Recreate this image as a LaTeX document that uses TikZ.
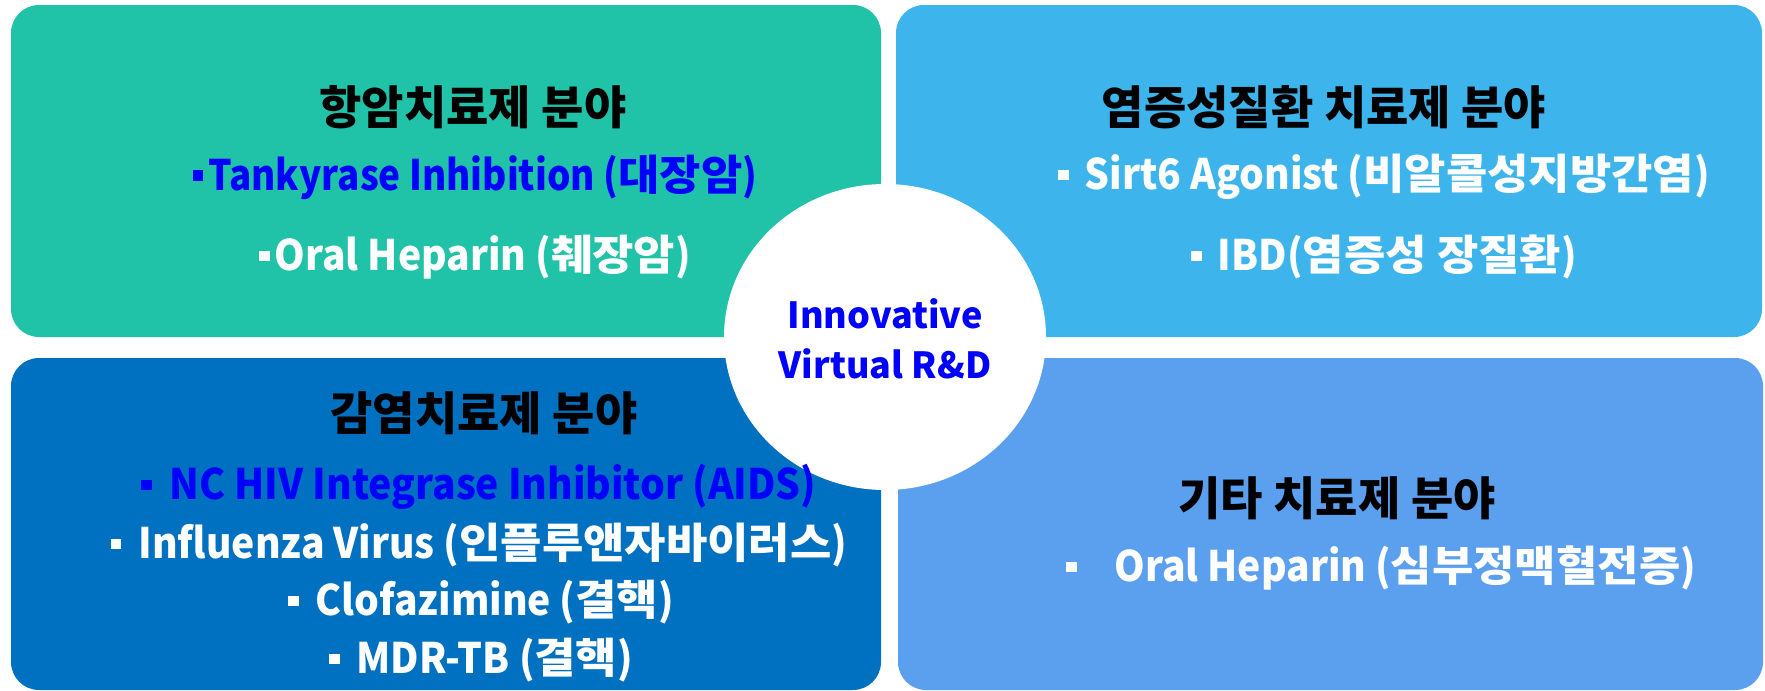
\documentclass[tikz,border=0pt]{standalone}
\usepackage{fontspec}
\newfontfamily\kr{Noto Sans CJK KR}
\newfontfamily\krn{Noto Sans CJK KR}[FakeStretch=0.93]
\newfontfamily\krt{Noto Sans CJK KR}[FakeStretch=0.88]
\newfontfamily\krw{Noto Sans CJK KR}[FakeStretch=1.07]
\newcommand\hg[1]{{\krw\bfseries #1}}
\newcommand\sqb{\raisebox{0.22em}{\rule{0.25em}{0.25em}}}
\usetikzlibrary{shapes.geometric}
\definecolor{cTL}{HTML}{20C3A7}
\definecolor{cTR}{HTML}{3DB5EC}
\definecolor{cBL}{HTML}{0070C0}
\definecolor{cBR}{HTML}{5B9FEF}
\definecolor{itemblue}{HTML}{0000FF}
\tikzset{
  panel/.style={rounded corners=28pt},
  ttl/.style={font=\kr\bfseries\fontsize{46}{52}\selectfont, text=black, inner sep=0pt},
  itm/.style={font=\krn\bfseries\fontsize{42}{48}\selectfont, text=white, inner sep=0pt},
  bitm/.style={itm, text=itemblue},
  hubtext/.style={font=\kr\bfseries\fontsize{36}{50}\selectfont, text=itemblue, align=center, inner sep=0pt}
}
\begin{document}
\begin{tikzpicture}[x=1pt,y=-1pt]
\useasboundingbox (0,0) rectangle (1765,691);
\fill[white] (0,0) rectangle (1765,691);
\fill[cTL,panel] (11,5) rectangle (881,337);
\fill[cTR,panel] (896,5) rectangle (1762,337);
\fill[cBL,panel] (11,358) rectangle (881,690);
\fill[cBR,panel] (898,358) rectangle (1763,690);
\node[ellipse, fill=white, minimum width=322pt, minimum height=306pt, inner sep=0pt] (hub) at (885,337) {};
\node[hubtext] (hubt) at (885,339) {Innovative\\Virtual R\&D};
% top-left
\node[ttl] (t1) at (473,107) {항암치료제 분야};
\node[bitm] (a1) at (475,177) {\sqb\hspace{5pt}{\krt\bfseries Tankyrase Inhibition (}\hg{대장암}{\krt\bfseries )}};
\node[itm] (a2) at (475,257) {\sqb\hspace{5pt}Oral Heparin (\hg{췌장암})};
% top-right
\node[ttl] (t2) at (1324,107) {염증성질환 치료제 분야};
\node[itm] (b1) at (1384,177) {\sqb\hspace{16pt}Sirt6 Agonist (\hg{비알콜성지방간염})};
\node[itm] (b2) at (1384,257) {\sqb\hspace{16pt}IBD(\hg{염증성 장질환})};
% bottom-left
\node[ttl] (t3) at (484,413) {감염치료제 분야};
\node[bitm] (c1) at (479,487) {\sqb\hspace{18pt}NC HIV Integrase Inhibitor (AIDS)};
\node[itm] (c2) at (479,545) {\sqb\hspace{17pt}Influenza Virus (\hg{인플루앤자바이러스})};
\node[itm] (c3) at (481,602) {\sqb\hspace{17pt}Clofazimine (\hg{결핵})};
\node[itm] (c4) at (481,660) {\sqb\hspace{17pt}MDR-TB (\hg{결핵})};
% bottom-right
\node[ttl] (t4) at (1337,498) {기타 치료제 분야};
\node[itm] (d1) at (1381,568) {\sqb\hspace{38pt}Oral Heparin (\hg{심부정맥혈전증})};
\end{tikzpicture}
\end{document}
